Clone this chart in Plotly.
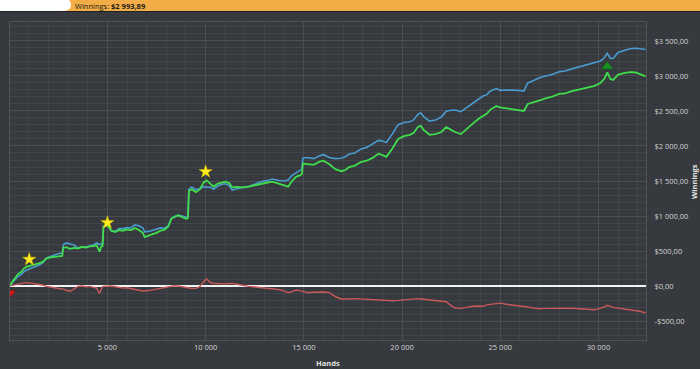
import plotly.graph_objects as go

# ---------------- data ----------------
hands = [0, 150, 300, 450, 600, 750, 900, 1100, 1300, 1500,
         1700, 1900, 2100, 2300, 2500, 2700, 2750, 2900, 3100, 3300,
         3500, 3700, 3900, 4100, 4300, 4450, 4600, 4680, 4750, 4800,
         5000, 5200, 5400, 5600, 5800, 6000, 6200, 6400, 6600, 6800,
         6900, 7100, 7300, 7500, 7700, 7900, 8100, 8250, 8400, 8600,
         8800, 9000, 9100, 9150, 9300, 9500, 9700, 9900, 10050, 10250,
         10400, 10600, 10800, 11000, 11200, 11350, 11600, 11900, 12200, 12500,
         12800, 13100, 13400, 13700, 14000, 14200, 14400, 14600, 14800, 14900,
         14950, 15200, 15500, 15800, 16000, 16300, 16600, 16900, 17100, 17300,
         17600, 17900, 18200, 18500, 18800, 19000, 19200, 19500, 19800, 20100,
         20400, 20600, 20800, 20950, 21100, 21400, 21700, 22000, 22250, 22500,
         22700, 23000, 23300, 23600, 23900, 24100, 24300, 24500, 24800, 25000,
         25300, 25600, 25900, 26200, 26400, 26700, 27000, 27300, 27600, 28000,
         28300, 28600, 28900, 29200, 29500, 29800, 30100, 30300, 30450, 30600,
         30750, 31000, 31300, 31600, 31900, 32100, 32400]

net_won = [0, 60, 120, 170, 200, 250, 276, 290, 300, 324,
           345, 395, 410, 420, 425, 430, 545, 555, 530, 545,
           535, 560, 548, 565, 570, 585, 490, 560, 570, 850,
           870, 790, 770, 800, 790, 810, 800, 830, 800, 760,
           700, 715, 740, 760, 790, 800, 850, 960, 990, 1010,
           990, 960, 970, 1360, 1380, 1340, 1380, 1480, 1510, 1460,
           1420, 1460, 1480, 1490, 1470, 1410, 1415, 1410, 1420, 1440,
           1465, 1475, 1490, 1460, 1430, 1420, 1500, 1560, 1580, 1600,
           1750, 1740, 1730, 1776, 1790, 1740, 1670, 1640, 1655, 1700,
           1720, 1770, 1790, 1830, 1890, 1870, 1845, 1960, 2100, 2140,
           2160, 2190, 2270, 2290, 2230, 2160, 2170, 2200, 2270, 2230,
           2200, 2170, 2250, 2320, 2390, 2420, 2460, 2520, 2570, 2550,
           2540, 2530, 2520, 2500, 2600, 2620, 2650, 2680, 2700, 2745,
           2750, 2780, 2800, 2820, 2840, 2860, 2900, 2960, 3050, 2960,
           2945, 3020, 3040, 3055, 3050, 3030, 2994]

showdown = [0, 50, 100, 140, 160, 205, 228, 248, 265, 296,
            330, 400, 420, 445, 460, 470, 590, 615, 605, 585,
            540, 560, 558, 570, 590, 615, 594, 605, 580, 855,
            870, 790, 780, 820, 820, 834, 833, 875, 860, 831,
            772, 780, 795, 805, 830, 825, 860, 962, 986, 1010,
            1000, 984, 990, 1385, 1415, 1373, 1390, 1420, 1410, 1410,
            1382, 1425, 1450, 1460, 1435, 1372, 1390, 1405, 1425, 1455,
            1490, 1505, 1528, 1510, 1500, 1515, 1580, 1617, 1645, 1670,
            1830, 1835, 1820, 1861, 1876, 1835, 1820, 1825, 1845, 1885,
            1900, 1955, 1980, 2025, 2080, 2070, 2050, 2170, 2305, 2335,
            2345, 2375, 2450, 2475, 2420, 2355, 2370, 2414, 2495, 2510,
            2515, 2490, 2550, 2610, 2675, 2710, 2730, 2785, 2820, 2795,
            2800, 2800, 2795, 2785, 2900, 2935, 2974, 3000, 3018, 3060,
            3070, 3098, 3122, 3145, 3170, 3200, 3215, 3260, 3325, 3255,
            3250, 3335, 3365, 3390, 3395, 3390, 3379]

non_showdown = [0, 10, 20, 30, 40, 45, 48, 42, 35, 28,
                15, -5, -10, -25, -35, -40, -45, -60, -75, -40,
                -5, 0, -10, -5, -20, -30, -104, -45, -10, -5,
                0, 0, -10, -20, -30, -24, -33, -45, -60, -71,
                -72, -65, -55, -45, -40, -25, -10, -2, 4, 0,
                -10, -24, -20, -25, -35, -33, -10, 60, 100, 50,
                38, 35, 30, 30, 35, 38, 25, 5, -5, -15,
                -25, -30, -38, -50, -70, -95, -80, -57, -65, -70,
                -80, -95, -90, -85, -86, -95, -150, -185, -190, -185,
                -180, -185, -190, -195, -190, -200, -205, -210, -205, -195,
                -185, -185, -180, -185, -190, -195, -200, -214, -225, -280,
                -315, -320, -300, -290, -285, -290, -270, -265, -250, -245,
                -260, -270, -275, -285, -300, -315, -324, -320, -318, -315,
                -320, -318, -322, -325, -330, -340, -315, -300, -275, -295,
                -305, -315, -325, -335, -345, -360, -385]

star_hands = [1020, 5000, 10000]
star_vals = [381, 904, 1633]
low_hands = [80]
low_vals = [-95]
high_hands = [30450]
high_vals = [3135]

x_ticks = [5000, 10000, 15000, 20000, 25000, 30000]
x_labels = ["5 000", "10 000", "15 000", "20 000", "25 000", "30 000"]
y_ticks = [-500, 0, 500, 1000, 1500, 2000, 2500, 3000, 3500]
y_labels = ["-$500,00", "$0,00", "$500,00", "$1 000,00", "$1 500,00",
            "$2 000,00", "$2 500,00", "$3 000,00", "$3 500,00"]
total_text = "$2 993,89"

# ---------------- styling ----------------
BG = "#36393d"
GRID = "#4b4f54"
MINOR = "#414449"
FONT = "Open Sans"

fig = go.Figure()
fig.add_trace(go.Scatter(x=hands, y=non_showdown, mode="lines",
                         line=dict(color="#c9585a", width=1.4), hoverinfo="skip"))
fig.add_trace(go.Scatter(x=hands, y=showdown, mode="lines",
                         line=dict(color="#4a9bd0", width=1.6), hoverinfo="skip"))
fig.add_trace(go.Scatter(x=hands, y=net_won, mode="lines",
                         line=dict(color="#3fdc4c", width=1.8), hoverinfo="skip"))
fig.add_trace(go.Scatter(x=star_hands, y=star_vals, mode="markers",
                         marker=dict(symbol="star", size=10, color="#ffec1f",
                                     line=dict(color="#c8b000", width=0.5))))
fig.add_trace(go.Scatter(x=low_hands, y=low_vals, mode="markers",
                         marker=dict(symbol="triangle-down", size=8, color="#d81818",
                                     line=dict(color="#900", width=0.5))))
fig.add_trace(go.Scatter(x=high_hands, y=high_vals, mode="markers",
                         marker=dict(symbol="triangle-up", size=10, color="#16901f",
                                     line=dict(color="#0c6012", width=0.5))))

fig.update_layout(
    width=700, height=369,
    margin=dict(l=10, r=54, t=22, b=29),
    paper_bgcolor=BG, plot_bgcolor=BG,
    showlegend=False,
    font=dict(family=FONT, size=7.5, color="#d4d4d4"),
    xaxis=dict(range=[40, 32420], tickvals=x_ticks, ticktext=x_labels,
               showgrid=True, gridcolor=GRID, gridwidth=1, automargin=False,
               minor=dict(dtick=1000, tick0=0, showgrid=True, gridcolor=MINOR, gridwidth=1),
               zeroline=False, showline=True, linecolor="#50545a", mirror=True,
               ticks="", tickfont=dict(size=7.5, color="#d4d4d4")),
    yaxis=dict(range=[-771, 3771], side="right", tickvals=y_ticks, ticktext=y_labels,
               showgrid=True, gridcolor=GRID, gridwidth=1, automargin=False,
               minor=dict(dtick=100, tick0=0, showgrid=True, gridcolor=MINOR, gridwidth=1),
               zeroline=True, zerolinecolor="#f2f2f2", zerolinewidth=2.2,
               showline=True, linecolor="#50545a", mirror=True,
               ticks="", ticklabelstandoff=6,
               tickfont=dict(size=7.5, color="#d4d4d4")),
)

# header bar
fig.add_shape(type="rect", xref="paper", yref="paper",
              x0=-0.02, x1=1.1, y0=(340 - 12) / 318, y1=(340 - 11) / 318,
              fillcolor="#1f2124", line=dict(width=0), layer="above")
fig.add_shape(type="rect", xref="paper", yref="paper",
              x0=-0.02, x1=1.1, y0=(340 - 11) / 318, y1=(340 + 1) / 318,
              fillcolor="#f2ad46", line=dict(width=0), layer="above")
fig.add_shape(type="path", xref="paper", yref="paper",
              path=("M -0.02 {yb} L {xa} {yb} Q {xb} {yb} {xb} {ym} "
                    "Q {xb} {yt} {xc} {yt} L -0.02 {yt} Z").format(
                  yb=(340 - 11) / 318, yt=(340 + 1) / 318, ym=(340 - 5) / 318,
                  xa=(62 - 10) / 636, xb=(71 - 10) / 636, xc=(66 - 10) / 636),
              fillcolor="#ffffff", line=dict(width=0), layer="above")

fig.add_annotation(xref="paper", yref="paper", x=(73 - 10) / 636, y=(340 - 5.5) / 318,
                   xanchor="left", yanchor="middle", showarrow=False,
                   text="Winnings: <b>" + total_text + "</b>",
                   font=dict(family=FONT, size=7.5, color="#1a1a1a"))
fig.add_annotation(xref="paper", yref="paper", x=(328 - 10) / 636, y=(340 - 363) / 318,
                   xanchor="center", yanchor="middle", showarrow=False,
                   text="<b>Hands</b>", font=dict(family=FONT, size=7.5, color="#e0e0e0"))
fig.add_annotation(xref="paper", yref="paper", x=(694 - 10) / 636, y=(340 - 182) / 318,
                   xanchor="center", yanchor="middle", showarrow=False, textangle=-90,
                   text="<b>Winnings</b>", font=dict(family=FONT, size=7.5, color="#e0e0e0"))

fig.write_html("out.html",
               config={"displayModeBar": False},
               post_script="document.body.style.margin='0';document.body.style.background='" + BG + "';")
